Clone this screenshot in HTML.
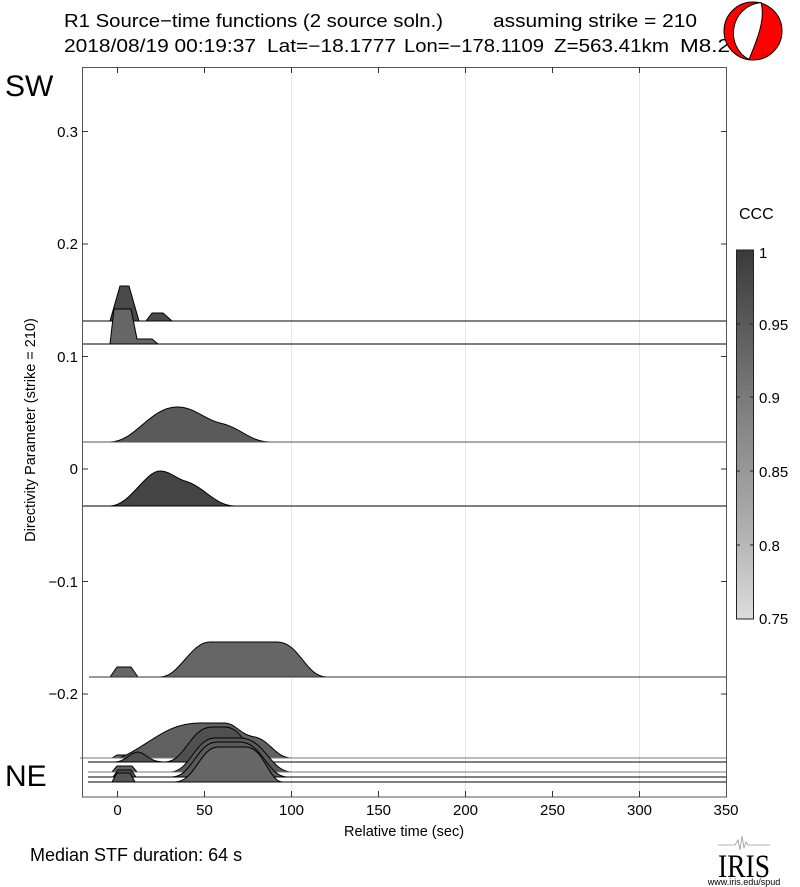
<!DOCTYPE html>
<html><head><meta charset="utf-8"><style>
html,body{margin:0;padding:0;background:#fff;}
svg{display:block;font-family:"Liberation Sans",sans-serif;}
</style></head><body>
<svg width="800" height="887" viewBox="0 0 800 887" xmlns="http://www.w3.org/2000/svg">
<rect width="800" height="887" fill="#fff"/>
<text x="64" y="27" font-size="18.5" textLength="379" lengthAdjust="spacingAndGlyphs">R1 Source−time functions (2 source soln.)</text>
<text x="493" y="27" font-size="18.5" textLength="204" lengthAdjust="spacingAndGlyphs">assuming strike = 210</text>
<g font-size="18">
<text x="64" y="52" textLength="192" lengthAdjust="spacingAndGlyphs">2018/08/19 00:19:37</text>
<text x="267" y="52" textLength="129" lengthAdjust="spacingAndGlyphs">Lat=−18.1777</text>
<text x="404" y="52" textLength="140" lengthAdjust="spacingAndGlyphs">Lon=−178.1109</text>
<text x="554" y="52" textLength="115" lengthAdjust="spacingAndGlyphs">Z=563.41km</text>
<text x="680" y="52" textLength="50" lengthAdjust="spacingAndGlyphs">M8.2</text>
</g>
<circle cx="753" cy="31" r="29" fill="#f00" stroke="#000" stroke-width="1"/>
<path d="M761,2.5 C730,6 724,46 749,59.5 C756,42 766,20 761,2.5 Z" fill="#fff" stroke="#000" stroke-width="1"/>
<g stroke="#e6e6e6" stroke-width="1">
<line x1="291.5" y1="67" x2="291.5" y2="797"/>
<line x1="465.5" y1="67" x2="465.5" y2="797"/>
<line x1="639.5" y1="67" x2="639.5" y2="797"/>
</g>
<g stroke="#000" stroke-width="1" stroke-linejoin="round">
<path d="M110,321 L120,286 L129,286 L139,321 L146,321 L152,313 L163,313 L172,321 Z" fill="#4a4a4a"/>
<line x1="82" y1="321" x2="727" y2="321"/>
<path d="M110,344 L114,309 L131,309 L137,339 L152,339 L158,344 Z" fill="#666"/>
<line x1="82" y1="344" x2="727" y2="344"/>
<path d="M110,442 C135,442 150,407 177,407 C195,407 205,420 220,423 C240,427 250,442 270,442 Z" fill="#5a5a5a"/>
<line x1="82" y1="442" x2="727" y2="442" stroke="#555"/>
<path d="M110,506 C130,506 145,471 160,471 C170,471 175,478 185,481 C205,487 215,506 235,506 Z" fill="#444"/>
<line x1="82" y1="506" x2="727" y2="506"/>
<path d="M110,677 L117,667 L131,667 L138,677 Z" fill="#666"/>
<path d="M160,677 C180,677 190,642 210,642 L277,642 C300,642 305,677 327,677 Z" fill="#666"/>
<line x1="89" y1="677" x2="727" y2="677" stroke="#333"/>
<path d="M112,758 L117,755 L130,755 L135,758 Z" fill="#606060"/>
<path d="M120,758 C150,745 165,723 200,723 L225,723 C235,723 240,735 255,737 C270,740 275,758 292,758 Z" fill="#606060"/>
<line x1="80" y1="758" x2="727" y2="758" stroke="#777"/>
<path d="M115,762 C125,762 130,752 138,752 C145,752 148,762 165,762 C185,762 190,727 212,727 L225,727 C245,727 250,762 265,762 Z" fill="#505050"/>
<line x1="88" y1="762" x2="727" y2="762"/>
<path d="M112,772 L117,766 L132,766 L137,772 Z" fill="#606060"/>
<path d="M170,772 C190,772 195,738 215,738 L240,738 C265,738 270,772 292,772 Z" fill="#5a5a5a"/>
<line x1="88" y1="772" x2="727" y2="772" stroke="#777"/>
<path d="M113,777 L118,770 L131,770 L136,777 Z" fill="#505050"/>
<path d="M172,777 C192,777 197,742 217,742 L240,742 C262,742 268,777 287,777 Z" fill="#5a5a5a"/>
<line x1="88" y1="777" x2="727" y2="777"/>
<path d="M112,782 L117,773 L130,773 L135,782 Z" fill="#555"/>
<path d="M175,782 C195,782 200,747 218,747 L245,747 C265,747 268,782 283,782 Z" fill="#666"/>
<line x1="88" y1="782" x2="727" y2="782"/>
</g>
<rect x="82.5" y="67.5" width="644" height="729.5" fill="none" stroke="#555" stroke-width="1"/>
<g stroke="#333" stroke-width="1">
<line x1="117.5" y1="797" x2="117.5" y2="791"/><line x1="204.5" y1="797" x2="204.5" y2="791"/>
<line x1="291.5" y1="797" x2="291.5" y2="791"/><line x1="378.5" y1="797" x2="378.5" y2="791"/>
<line x1="465.5" y1="797" x2="465.5" y2="791"/><line x1="552.5" y1="797" x2="552.5" y2="791"/>
<line x1="639.5" y1="797" x2="639.5" y2="791"/>
<line x1="117.5" y1="67" x2="117.5" y2="73"/><line x1="204.5" y1="67" x2="204.5" y2="73"/>
<line x1="291.5" y1="67" x2="291.5" y2="73"/><line x1="378.5" y1="67" x2="378.5" y2="73"/>
<line x1="465.5" y1="67" x2="465.5" y2="73"/><line x1="552.5" y1="67" x2="552.5" y2="73"/>
<line x1="639.5" y1="67" x2="639.5" y2="73"/>
<line x1="82" y1="131.5" x2="88" y2="131.5"/><line x1="82" y1="244" x2="88" y2="244"/>
<line x1="82" y1="356.5" x2="88" y2="356.5"/><line x1="82" y1="469" x2="88" y2="469"/>
<line x1="82" y1="581.5" x2="88" y2="581.5"/><line x1="82" y1="694" x2="88" y2="694"/>
<line x1="727" y1="131.5" x2="721" y2="131.5"/><line x1="727" y1="244" x2="721" y2="244"/>
<line x1="727" y1="356.5" x2="721" y2="356.5"/><line x1="727" y1="469" x2="721" y2="469"/>
<line x1="727" y1="581.5" x2="721" y2="581.5"/><line x1="727" y1="694" x2="721" y2="694"/>
</g>
<g font-size="15" text-anchor="end">
<text x="78" y="137">0.3</text><text x="78" y="249">0.2</text><text x="78" y="362">0.1</text>
<text x="78" y="474">0</text><text x="78" y="587">−0.1</text><text x="78" y="699">−0.2</text>
</g>
<g font-size="15" text-anchor="middle">
<text x="117.5" y="815">0</text><text x="204.5" y="815">50</text><text x="291.5" y="815">100</text>
<text x="378.5" y="815">150</text><text x="465.5" y="815">200</text><text x="552.5" y="815">250</text>
<text x="639.5" y="815">300</text><text x="726" y="815">350</text>
</g>
<text x="404" y="836" font-size="14.5" text-anchor="middle">Relative time (sec)</text>
<text transform="translate(35,430) rotate(-90)" font-size="14.5" text-anchor="middle">Directivity Parameter (strike = 210)</text>
<text x="5" y="96" font-size="30">SW</text>
<text x="5" y="786" font-size="30">NE</text>
<text x="30" y="861" font-size="18">Median STF duration: 64 s</text>
<text x="739" y="219" font-size="16">CCC</text>
<defs><linearGradient id="cb" x1="0" y1="0" x2="0" y2="1">
<stop offset="0" stop-color="#3a3a3a"/><stop offset="0.4" stop-color="#7a7a7a"/>
<stop offset="0.75" stop-color="#aeaeae"/><stop offset="1" stop-color="#dcdcdc"/></linearGradient></defs>
<rect x="736.5" y="250" width="17" height="369" fill="url(#cb)" stroke="#222" stroke-width="1"/>
<g stroke="#222"><line x1="736" y1="324" x2="740" y2="324"/><line x1="750" y1="324" x2="754" y2="324"/>
<line x1="736" y1="397" x2="740" y2="397"/><line x1="750" y1="397" x2="754" y2="397"/>
<line x1="736" y1="471" x2="740" y2="471"/><line x1="750" y1="471" x2="754" y2="471"/>
<line x1="736" y1="545" x2="740" y2="545"/><line x1="750" y1="545" x2="754" y2="545"/></g>
<g font-size="15">
<text x="759" y="258">1</text><text x="759" y="330">0.95</text><text x="759" y="403">0.9</text>
<text x="759" y="477">0.85</text><text x="759" y="551">0.8</text><text x="759" y="624">0.75</text>
</g>
<path d="M718,845 L735,845 L738,840 L740,850 L742,836 L744,848 L746,842 L748,845 L770,845" fill="none" stroke="#999" stroke-width="0.8"/>
<text x="744" y="877" font-family="Liberation Serif,serif" font-size="33" text-anchor="middle" textLength="52" lengthAdjust="spacingAndGlyphs">IRIS</text>
<text x="744" y="885" font-size="9" text-anchor="middle">www.iris.edu/spud</text>
</svg>
</body></html>
